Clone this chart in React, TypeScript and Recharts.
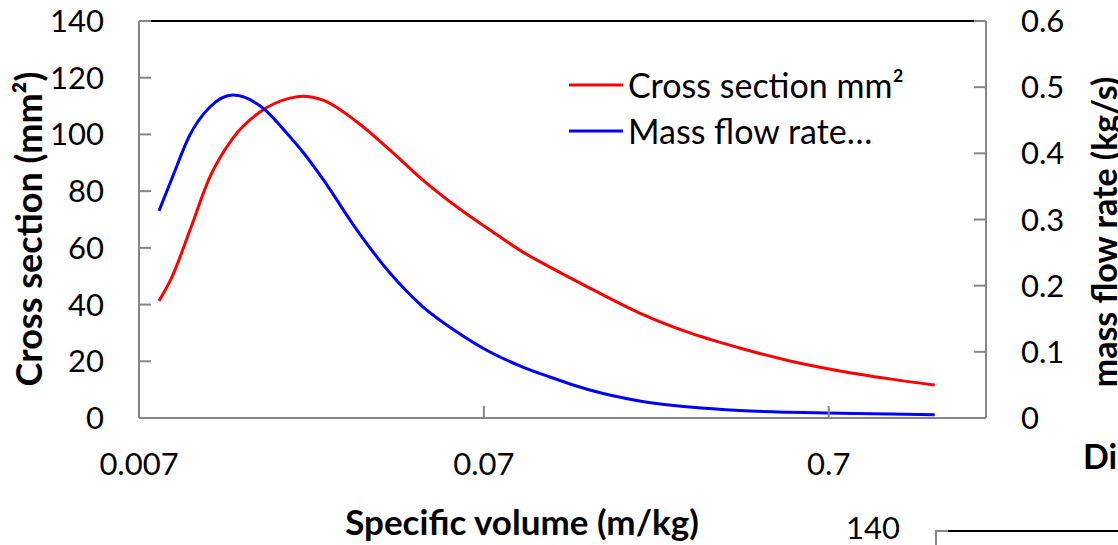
import { LineChart, Line, XAxis, YAxis, ReferenceLine } from 'recharts'

// specific volume (m/kg), log axis
const specificVolume = [
  0.008, 0.00872, 0.00984, 0.01124, 0.01311, 0.01569, 0.01918, 0.0209, 0.0239, 0.03,
  0.0374, 0.0466, 0.0585, 0.0729, 0.0908, 0.1088, 0.142, 0.198, 0.277, 0.386,
  0.54, 0.753, 1.051, 1.42,
]
// cross section (mm²), left axis
const crossSection = [
  41.3, 49.7, 66.3, 85.0, 98.7, 107.9, 112.8, 113.5, 112.1, 104.4,
  94.5, 83.9, 74.4, 66.3, 58.5, 53.2, 45.8, 37.0, 30.0, 24.7,
  20.1, 16.6, 13.8, 11.6,
]
// mass flow rate (kg/s), right axis
const massFlowRate = [
  0.313, 0.362, 0.428, 0.47, 0.488, 0.472, 0.425, 0.402, 0.361, 0.284,
  0.219, 0.168, 0.13, 0.0997, 0.077, 0.062, 0.0423, 0.0257, 0.0166, 0.0113,
  0.0086, 0.007, 0.0059, 0.0051,
]

const xTicks = [0.007, 0.07, 0.7]
const leftTicks = [0, 20, 40, 60, 80, 100, 120, 140]
const rightTicks = [0, 0.1, 0.2, 0.3, 0.4, 0.5, 0.6]

const FONT = 'Lato, "Open Sans", sans-serif'
const AXIS = '#868686'
const tickStyle = { fill: '#000', fontSize: 31, fontFamily: FONT }

const legendItems = [
  { label: 'Cross section mm²', color: '#ff0000' },
  { label: 'Mass flow rate…', color: '#0000ff' },
]

function ChartLegend() {
  return (
    <div style={{ position: 'absolute', left: 569, top: 62, fontFamily: FONT }}>
      {legendItems.map((it) => (
        <div key={it.label} style={{ display: 'flex', alignItems: 'center', height: 46 }}>
          <svg width={54} height={6}>
            <line x1={0} y1={3} x2={54} y2={3} stroke={it.color} strokeWidth={3} />
          </svg>
          <span style={{ marginLeft: 5, fontSize: 34, lineHeight: '46px', color: '#000', whiteSpace: 'nowrap' }}>
            {it.label}
          </span>
        </div>
      ))}
    </div>
  )
}

export default function App() {
  const rows = specificVolume.map((v, i) => ({ v, area: crossSection[i], flow: massFlowRate[i] }))

  return (
    <div style={{ position: 'absolute', left: 0, top: 0, width: 1118, height: 545, background: '#fff', overflow: 'hidden' }}>
      <LineChart width={1118} height={545} data={rows} margin={{ top: 21, right: 0, bottom: 0, left: 0 }}>
        <XAxis
          dataKey="v"
          type="number"
          scale="log"
          domain={[0.007, 2]}
          allowDataOverflow
          ticks={xTicks}
          interval={0}
          height={127}
          tickSize={-12}
          tickMargin={47}
          stroke={AXIS}
          strokeWidth={2}
          tick={tickStyle}
        />
        <YAxis
          yAxisId="left"
          domain={[0, 140]}
          ticks={leftTicks}
          interval={0}
          width={139}
          tickSize={-12}
          tickMargin={47}
          stroke={AXIS}
          strokeWidth={2}
          tick={tickStyle}
        />
        <YAxis
          yAxisId="right"
          orientation="right"
          domain={[0, 0.6]}
          ticks={rightTicks}
          interval={0}
          width={132}
          tickSize={-12}
          tickMargin={47}
          stroke={AXIS}
          strokeWidth={2}
          tick={tickStyle}
        />
        <ReferenceLine yAxisId="left" y={140} stroke="#000" strokeWidth={2} />
        <Line
          yAxisId="left"
          dataKey="area"
          type="monotone"
          stroke="#ff0000"
          strokeWidth={3}
          dot={false}
          isAnimationActive={false}
        />
        <Line
          yAxisId="right"
          dataKey="flow"
          type="monotone"
          stroke="#0000ff"
          strokeWidth={3}
          dot={false}
          isAnimationActive={false}
        />
      </LineChart>

      <ChartLegend />

      {/* axis titles and the edge of the neighbouring chart */}
      <svg
        width={1118}
        height={545}
        style={{ position: 'absolute', left: 0, top: 0, pointerEvents: 'none' }}
        fontFamily={FONT}
      >
        <text x={28} y={229} transform="rotate(-90 28 229)" textAnchor="middle" dominantBaseline="central" fontSize={36} fontWeight="bold">
          Cross section (mm²)
        </text>
        <text x={1103} y={232} transform="rotate(-90 1103 232)" textAnchor="middle" dominantBaseline="central" fontSize={34} fontWeight="bold">
          mass flow rate (kg/s)
        </text>
        <text x={522} y={535} textAnchor="middle" fontSize={35} fontWeight="bold">
          Specific volume (m/kg)
        </text>
        <text x={1083} y={469} fontSize={34} fontWeight="bold">
          Di
        </text>
        <text x={900} y={539} textAnchor="end" fontSize={31}>
          140
        </text>
        <line x1={936} y1={531} x2={948} y2={531} stroke={AXIS} strokeWidth={2} />
        <line x1={948} y1={531} x2={1118} y2={531} stroke="#000" strokeWidth={2} />
        <line x1={936} y1={530} x2={936} y2={545} stroke={AXIS} strokeWidth={2} />
      </svg>
    </div>
  )
}
